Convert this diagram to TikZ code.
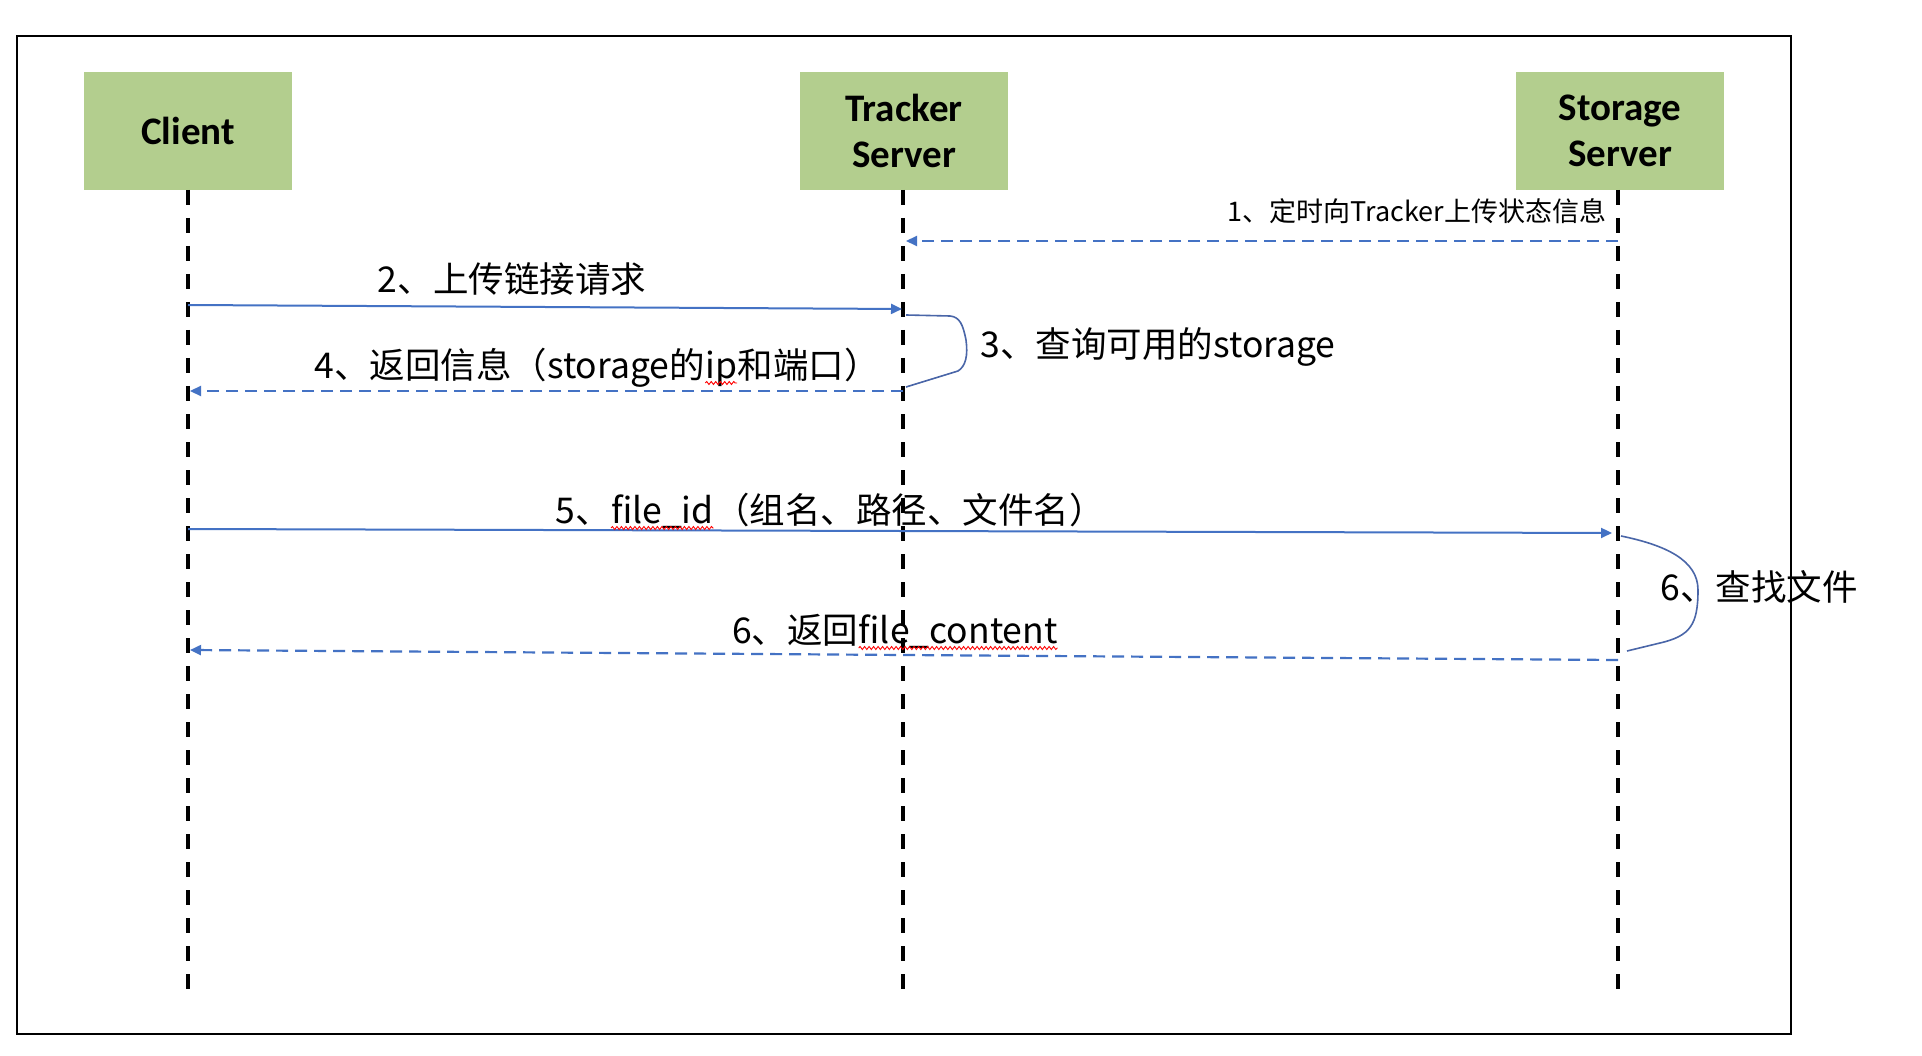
\documentclass[tikz,border=0pt]{standalone}
\usepackage{fontspec}
\setmainfont{Noto Sans CJK SC}
\newfontfamily\boxfont{Carlito}
\usetikzlibrary{arrows.meta,decorations.pathmorphing}
\newcommand\redwave[1]{\tikz[baseline=(rw.base)]{\node[inner sep=0pt,outer sep=0pt] (rw) {#1};
  \draw[red, line width=0.9pt, decorate, decoration={snake, amplitude=1.5pt, segment length=4.5pt}]
  ([yshift=-5pt]rw.base west) -- ([yshift=-5pt]rw.base east);}}
\definecolor{boxgreen}{HTML}{B3CE8E}
\definecolor{msgblue}{HTML}{4472C4}
\definecolor{curveblue}{HTML}{4A66A8}
\tikzset{
  actor/.style={fill=boxgreen, draw=none, minimum width=208pt, minimum height=118pt, inner sep=0pt,
    align=center, font=\boxfont\bfseries\fontsize{39}{45}\selectfont},
  lifeline/.style={line width=3.5pt, dash pattern=on 15pt off 13pt, black},
  msgsolid/.style={line width=2pt, msgblue, -{Triangle[length=11pt,width=10pt]}},
  msgdash/.style={line width=2.2pt, msgblue, dash pattern=on 12pt off 7pt, -{Triangle[length=11pt,width=10pt]}},
  selfcurve/.style={line width=1.6pt, curveblue},
  lbl/.style={inner sep=0pt, anchor=base, font=\fontsize{35.5}{42}\selectfont},
  lblsmall/.style={inner sep=0pt, anchor=base, font=\fontsize{27}{32}\selectfont},
}
\begin{document}
\begin{tikzpicture}[x=1pt, y=-1pt]
\fill[white] (0,0) rectangle (1922,1056);
\useasboundingbox (0,0) rectangle (1922,1056);
\draw[line width=2.5pt] (17,36) rectangle (1791,1034);

% actors
\node[actor] (client) at (188,131) {Client};
\node[actor] (tracker) at (904,131) {Tracker\\[1pt]Server};
\node[actor] (storage) at (1620,131) {Storage\\[1pt]Server};

% lifeline ends
\coordinate (cend) at (188,991);
\coordinate (tend) at (903,991);
\coordinate (send) at (1618,991);
\draw[lifeline] (188,190) -- (cend);
\draw[lifeline] (903,190) -- (tend);
\draw[lifeline] (1618,190) -- (send);

% message anchor points
\coordinate (s1) at (1618,241);
\coordinate (t1) at (906,241);
\coordinate (c2) at (188,305);
\coordinate (t2) at (902,309);
\coordinate (t4) at (903,391);
\coordinate (c4) at (190,391);
\coordinate (c5) at (188,529);
\coordinate (s5) at (1612,533);
\coordinate (s6) at (1618,660);
\coordinate (c6) at (190,650);
\coordinate (t3a) at (906,315);
\coordinate (t3b) at (906,387);
\coordinate (s6a) at (1621,536);
\coordinate (s6b) at (1627,651);

% messages
\draw[msgdash] (s1) -- (t1);
\draw[msgsolid] (c2) -- (t2);
\draw[msgdash] (t4) -- (c4);
\draw[msgsolid] (c5) -- (s5);
\draw[msgdash] (s6) -- (c6);

% self curves
\draw[selfcurve] (t3a) -- (950,316) .. controls (960,317) and (963,325) .. (966,340)
  .. controls (968,355) and (966,366) .. (958,371) -- (t3b);
\draw[selfcurve] (s6a) .. controls (1665,545) and (1698,560) .. (1698,590)
  .. controls (1698,625) and (1690,636) .. (1660,643) -- (s6b);

% labels
\node[lblsmall] (l1) at (1417,222) {1、定时向Tracker上传状态信息};
\node[lbl] (l2) at (512,293) {2、上传链接请求};
\node[lbl] (l3) at (1158,358) {3、查询可用的storage};
\node[lbl] (l4) at (597,378) {4、返回信息（storage的\redwave{ip}和端口）};
\node[lbl] (l5) at (830,523) {5、\redwave{file\_id}（组名、路径、文件名）};
\node[lbl] (l6) at (895,643) {6、返回\redwave{file\_content}};
\node[lbl] (l7) at (1759,600) {6、查找文件};
\end{tikzpicture}
\end{document}
